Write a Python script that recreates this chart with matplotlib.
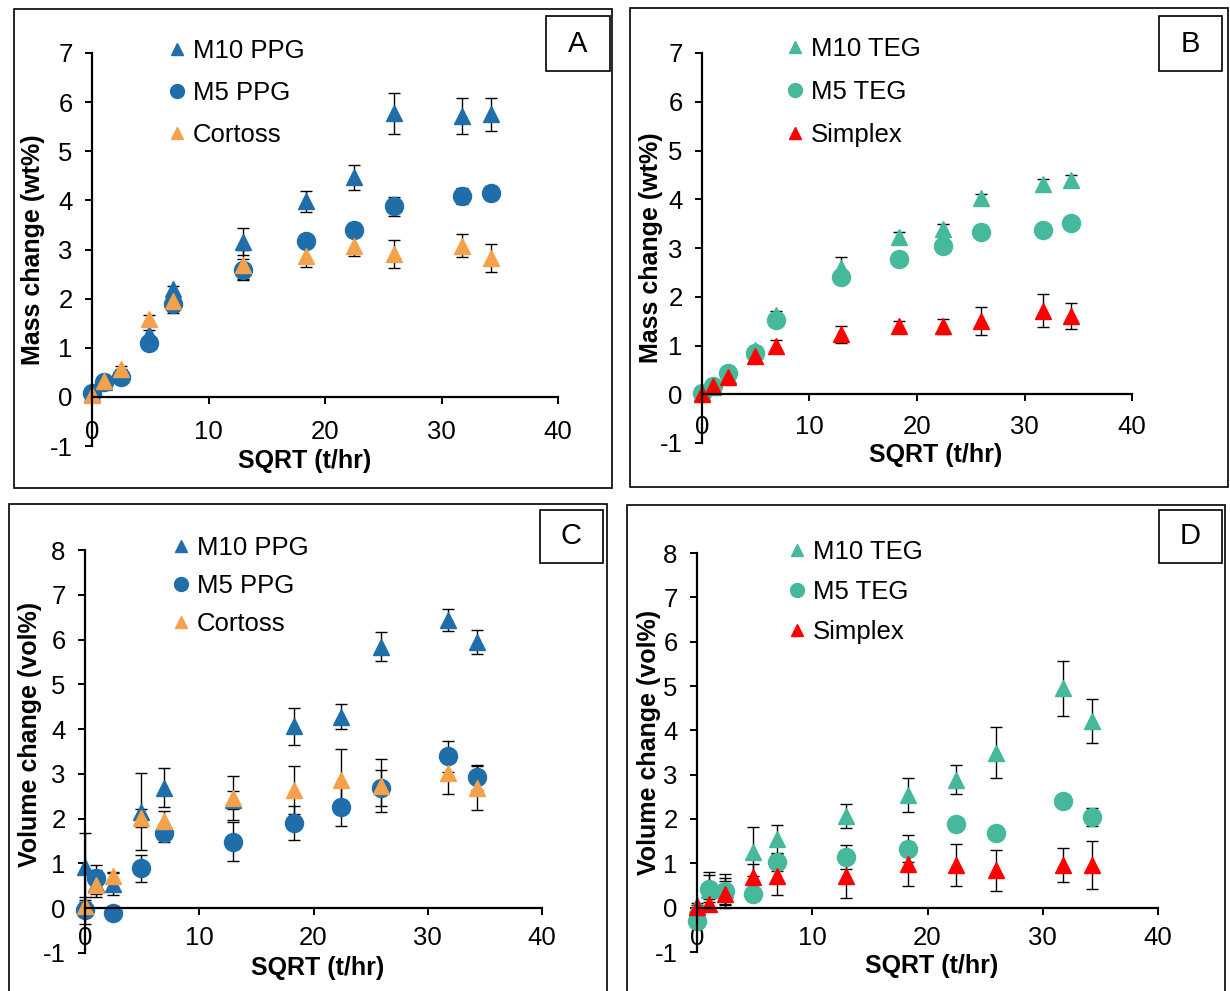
import numpy as np
import matplotlib
matplotlib.use('Agg')
import matplotlib.pyplot as plt
from matplotlib.lines import Line2D
from matplotlib.patches import Rectangle

plt.rcParams['font.family'] = ['Liberation Sans', 'DejaVu Sans']
plt.rcParams['axes.unicode_minus'] = False

W, H = 1230, 991

# SQRT(t/hr) sampling points
x = [0, 1, 2.45, 4.9, 6.93, 12.96, 18.33, 22.45, 25.92, 31.75, 34.29]

# A - mass change, PPG
m10_ppg_mass = [0.05, 0.3, 0.5, 1.28, 2.19, 3.16, 3.98, 4.47, 5.77, 5.72, 5.75]
m10_ppg_mass_err = [0.03, 0.05, 0.07, 0.08, 0.07, 0.28, 0.22, 0.25, 0.42, 0.36, 0.34]
m5_ppg_mass = [0.08, 0.3, 0.4, 1.09, 1.9, 2.59, 3.18, 3.4, 3.88, 4.09, 4.15]
m5_ppg_mass_err = [0.03, 0.1, 0.1, 0.1, 0.2, 0.22, 0.1, 0.13, 0.19, 0.17, 0.15]
cortoss_mass = [0.03, 0.32, 0.57, 1.58, 1.95, 2.69, 2.86, 3.08, 2.91, 3.08, 2.83]
cortoss_mass_err = [0.02, 0.05, 0.05, 0.08, 0.1, 0.3, 0.22, 0.22, 0.29, 0.23, 0.29]

# B - mass change, TEG
m10_teg_mass = [0.03, 0.15, 0.4, 0.9, 1.63, 2.58, 3.23, 3.4, 4.02, 4.32, 4.39]
m10_teg_mass_err = [0.02, 0.03, 0.05, 0.06, 0.08, 0.24, 0.1, 0.1, 0.08, 0.1, 0.1]
m5_teg_mass = [0.03, 0.17, 0.43, 0.85, 1.52, 2.41, 2.77, 3.04, 3.32, 3.37, 3.52]
m5_teg_mass_err = [0.02, 0.03, 0.05, 0.05, 0.1, 0.1, 0.12, 0.08, 0.05, 0.05, 0.05]
simplex_mass = [0.0, 0.16, 0.35, 0.79, 0.99, 1.23, 1.39, 1.39, 1.5, 1.71, 1.61]
simplex_mass_err = [0.02, 0.03, 0.05, 0.05, 0.13, 0.17, 0.12, 0.15, 0.28, 0.34, 0.27]

# C - volume change, PPG
m10_ppg_vol = [0.93, 0.55, 0.54, 2.16, 2.69, 2.42, 4.06, 4.28, 5.84, 6.44, 5.94]
m10_ppg_vol_err = [0.75, 0.3, 0.25, 0.85, 0.44, 0.2, 0.42, 0.28, 0.32, 0.24, 0.27]
m5_ppg_vol = [-0.05, 0.67, -0.11, 0.89, 1.67, 1.49, 1.91, 2.27, 2.69, 3.39, 2.92]
m5_ppg_vol_err = [0.3, 0.3, 0.05, 0.3, 0.2, 0.43, 0.38, 0.43, 0.4, 0.35, 0.28]
cortoss_vol = [0.05, 0.52, 0.72, 2.02, 1.95, 2.46, 2.64, 2.86, 2.74, 3.01, 2.68]
cortoss_vol_err = [0.1, 0.2, 0.1, 0.2, 0.23, 0.49, 0.54, 0.7, 0.6, 0.46, 0.49]

# D - volume change, TEG
m10_teg_vol = [0.05, 0.4, 0.4, 1.26, 1.54, 2.06, 2.54, 2.89, 3.5, 4.95, 4.21]
m10_teg_vol_err = [0.05, 0.4, 0.35, 0.55, 0.33, 0.27, 0.38, 0.32, 0.58, 0.62, 0.5]
m5_teg_vol = [-0.29, 0.43, 0.38, 0.3, 1.03, 1.14, 1.33, 1.88, 1.69, 2.41, 2.05]
m5_teg_vol_err = [0.1, 0.3, 0.3, 0.05, 0.2, 0.27, 0.3, 0.05, 0.05, 0.05, 0.2]
simplex_vol = [0.02, 0.09, 0.3, 0.69, 0.71, 0.71, 0.98, 0.96, 0.84, 0.96, 0.96]
simplex_vol_err = [0.05, 0.1, 0.3, 0.3, 0.42, 0.5, 0.5, 0.47, 0.47, 0.39, 0.55]

BLUE = '#1f6ea9'
ORANGE = '#f5a04a'
TEAL = '#46b89b'
RED = '#ff0000'

fig = plt.figure(figsize=(W / 100, H / 100), dpi=100)


def fx(px):
    return px / W


def fy(py):
    return 1 - py / H


def make_axes(l, r, b, t):
    # pixel box -> figure fraction
    return fig.add_axes([fx(l), fy(b), fx(r) - fx(l), fy(t) - fy(b)])


def frame(l, t, r, b, lw=1.2):
    fig.patches.append(Rectangle((fx(l), fy(b)), fx(r) - fx(l), fy(t) - fy(b),
                                 transform=fig.transFigure, fill=False,
                                 edgecolor='black', linewidth=lw))


def letter_box(l, t, r, b, s):
    frame(l, t, r, b)
    fig.text(fx((l + r) / 2), fy((t + b) / 2), s, ha='center', va='center',
             fontsize=21)


def panel(ax, series, ymax, ylabel, xlab_pos, ylab_pos, leg_pos, leg_gap,
          xpad=12):
    for y, e, c, m in series:
        ms = 13 if m == 'o' else 12
        ax.errorbar(x, y, yerr=e, fmt=m, color=c, ms=ms, mec=c,
                    ecolor='black', elinewidth=1, capsize=4.5, capthick=1,
                    clip_on=False)
    ax.set_xlim(0, 40)
    ax.set_ylim(-1, ymax)
    ax.set_xticks([0, 10, 20, 30, 40])
    ax.set_yticks(range(-1, ymax + 1))
    ax.spines['top'].set_visible(False)
    ax.spines['right'].set_visible(False)
    ax.spines['bottom'].set_position(('data', 0))
    ax.spines['left'].set_linewidth(1.6)
    ax.spines['bottom'].set_linewidth(1.6)
    ax.tick_params(axis='both', direction='out', length=5, width=1.4,
                   labelsize=18.5)
    ax.tick_params(axis='y', pad=9)
    ax.tick_params(axis='x', pad=xpad)
    ax.set_xlabel('SQRT (t/hr)', fontsize=18, fontweight='bold')
    ax.xaxis.set_label_coords(*xlab_pos)
    ax.set_ylabel(ylabel, fontsize=18, fontweight='bold')
    ax.yaxis.set_label_coords(*ylab_pos)
    ax.patch.set_alpha(0)

    handles = []
    for (y, e, c, m), lab in zip(series, leg_pos[2]):
        ms = 10 if m == 'o' else 8
        handles.append(Line2D([], [], ls='none', marker=m, color=c, ms=ms,
                              label=lab))
    ax.legend(handles=handles, loc='upper left',
              bbox_to_anchor=(fx(leg_pos[0]), fy(leg_pos[1])),
              bbox_transform=fig.transFigure, frameon=False, fontsize=18.5,
              handlelength=0.8, handletextpad=0.2, borderpad=0,
              borderaxespad=0, labelspacing=leg_gap)


# panel frames
frame(14, 9, 612, 488)
frame(630, 8, 1228, 487)
frame(9, 504, 607, 1000)
frame(627, 505, 1225, 1000)

axA = make_axes(92, 558, 446, 53)
panel(axA,
      [(m10_ppg_mass, m10_ppg_mass_err, BLUE, '^'),
       (m5_ppg_mass, m5_ppg_mass_err, BLUE, 'o'),
       (cortoss_mass, cortoss_mass_err, ORANGE, '^')],
      7, 'Mass change (wt%)', (0.457, -0.008), (-0.101, 0.5),
      (167, 39, ['M10 PPG', 'M5 PPG', 'Cortoss']), 0.70)

axB = make_axes(702, 1132, 443, 53)
panel(axB,
      [(m10_teg_mass, m10_teg_mass_err, TEAL, '^'),
       (m5_teg_mass, m5_teg_mass_err, TEAL, 'o'),
       (simplex_mass, simplex_mass_err, RED, '^')],
      7, 'Mass change (wt%)', (0.544, 0.0), (-0.091, 0.5),
      (785, 37, ['M10 TEG', 'M5 TEG', 'Simplex']), 0.74, xpad=10)

axC = make_axes(85, 542, 953, 550)
panel(axC,
      [(m10_ppg_vol, m10_ppg_vol_err, BLUE, '^'),
       (m5_ppg_vol, m5_ppg_vol_err, BLUE, 'o'),
       (cortoss_vol, cortoss_vol_err, ORANGE, '^')],
      8, 'Volume change (vol%)', (0.51, -0.008), (-0.094, 0.543),
      (171, 536, ['M10 PPG', 'M5 PPG', 'Cortoss']), 0.545, xpad=8)

axD = make_axes(697, 1158, 952, 553)
panel(axD,
      [(m10_teg_vol, m10_teg_vol_err, TEAL, '^'),
       (m5_teg_vol, m5_teg_vol_err, TEAL, 'o'),
       (simplex_vol, simplex_vol_err, RED, '^')],
      8, 'Volume change (vol%)', (0.51, -0.004), (-0.078, 0.526),
      (787, 540, ['M10 TEG', 'M5 TEG', 'Simplex']), 0.62, xpad=8)

letter_box(546, 16, 610, 71, 'A')
letter_box(1159, 16, 1222, 71, 'B')
letter_box(540, 510, 603, 563, 'C')
letter_box(1159, 510, 1222, 563, 'D')

fig.savefig('out.png', dpi=100)
